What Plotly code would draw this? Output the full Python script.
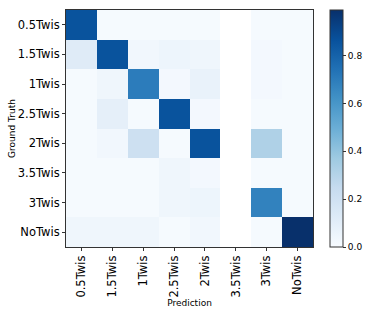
import plotly.graph_objects as go

labels = ["0.5Twis", "1.5Twis", "1Twis", "2.5Twis", "2Twis", "3.5Twis", "3Twis", "NoTwis"]
nan = None
row_05 = [0.86, 0.01, 0.01, 0.01, 0.01, nan, 0.01, 0.01]
row_15 = [0.12, 0.86, 0.03, 0.05, 0.04, nan, 0.02, 0.01]
row_1 = [0.01, 0.04, 0.70, 0.02, 0.07, nan, 0.02, 0.01]
row_25 = [0.01, 0.09, 0.01, 0.86, 0.02, nan, 0.01, 0.01]
row_2 = [0.01, 0.03, 0.21, 0.01, 0.86, nan, 0.32, 0.01]
row_35 = [0.01, 0.01, 0.01, 0.04, 0.02, nan, 0.01, 0.01]
row_3 = [0.01, 0.01, 0.01, 0.04, 0.05, nan, 0.68, 0.01]
row_no = [0.04, 0.04, 0.04, 0.01, 0.03, nan, 0.01, 0.99]
z = [row_05, row_15, row_1, row_25, row_2, row_35, row_3, row_no]

blues = ["#f7fbff", "#deebf7", "#c6dbef", "#9ecae1", "#6baed6",
         "#4292c6", "#2171b5", "#08519c", "#08306b"]
colorscale = [[i / 8, c] for i, c in enumerate(blues)]

fig = go.Figure(go.Heatmap(
    z=z, x=labels, y=labels, colorscale=colorscale, zmin=0, zmax=0.99,
    hoverongaps=False,
    colorbar=dict(
        x=1.069, xanchor="left", xpad=0, y=0.5, yanchor="middle",
        len=1, lenmode="fraction", thickness=13, ypad=0,
        outlinewidth=1, outlinecolor="#333",
        tickvals=[0, 0.2, 0.4, 0.6, 0.8], ticktext=["0.0", "0.2", "0.4", "0.6", "0.8"],
        ticks="outside", ticklen=3, tickcolor="#333",
        tickfont=dict(family="DejaVu Sans", size=9, color="#000"),
    ),
))

fig.update_layout(
    width=371, height=316,
    margin=dict(l=66, r=58, t=10, b=69, autoexpand=False),
    paper_bgcolor="white", plot_bgcolor="white",
    font=dict(family="DejaVu Sans", color="#000"),
)
fig.update_xaxes(
    title=dict(text="Prediction", font=dict(size=9), standoff=1),
    tickangle=-90, tickfont=dict(size=11.5),
    ticks="outside", ticklen=3, tickcolor="#333",
    showline=True, linecolor="#333", linewidth=1, mirror=True,
    showgrid=False, zeroline=False,
)
fig.update_yaxes(
    title=dict(text="Ground Truth", font=dict(size=9), standoff=0),
    autorange="reversed", tickfont=dict(size=11.5),
    ticks="outside", ticklen=3, tickcolor="#333",
    showline=True, linecolor="#333", linewidth=1, mirror=True,
    showgrid=False, zeroline=False,
)

fig.write_html("out.html", config={"displayModeBar": False},
               post_script="document.body.style.margin='0';document.body.style.overflow='hidden';")
